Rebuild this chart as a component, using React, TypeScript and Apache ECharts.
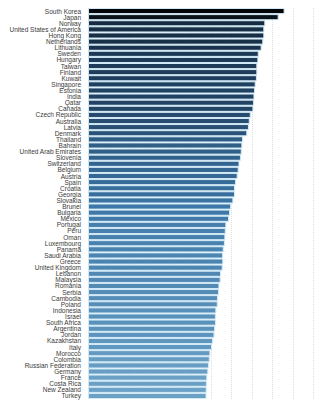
import React, { useEffect, useRef } from "react";
import * as echarts from "echarts";

const countries = [
  "South Korea", "Japan", "Norway", "United States of America", "Hong Kong", "Netherlands",
  "Lithuania", "Sweden", "Hungary", "Taiwan", "Finland", "Kuwait", "Singapore", "Estonia",
  "India", "Qatar", "Canada", "Czech Republic", "Australia", "Latvia", "Denmark", "Thailand",
  "Bahrain", "United Arab Emirates", "Slovenia", "Switzerland", "Belgium", "Austria", "Spain",
  "Croatia", "Georgia", "Slovakia", "Brunei", "Bulgaria", "Mexico", "Portugal", "Peru", "Oman",
  "Luxembourg", "Panama", "Saudi Arabia", "Greece", "United Kingdom", "Lebanon", "Malaysia",
  "Romania", "Serbia", "Cambodia", "Poland", "Indonesia", "Israel", "South Africa", "Argentina",
  "Jordan", "Kazakhstan", "Italy", "Morocco", "Colombia", "Russian Federation", "Germany",
  "France", "Costa Rica", "New Zealand", "Turkey",
];

const values = [
  95.9, 93.0, 86.5, 86.0, 86.0, 85.5,
  84.7, 83.3, 83.1, 82.6, 82.6, 82.4, 81.8, 81.5,
  81.2, 81.0, 80.7, 79.4, 78.9, 78.5, 77.7, 75.6,
  75.3, 75.0, 74.6, 73.9, 73.5, 73.0, 72.2,
  71.7, 71.7, 70.9, 69.8, 69.3, 68.8, 67.5, 67.2, 67.0,
  66.8, 66.2, 65.9, 66.0, 65.7, 64.9, 64.7,
  64.1, 63.9, 63.4, 63.3, 62.6, 62.4, 62.4, 62.0,
  61.7, 61.0, 60.5, 59.7, 59.4, 59.0, 58.7,
  58.2, 58.0, 57.9, 57.8,
];

const axisMin = 0;
const axisMax = 110;
const axisStep = 10;

export default function App() {
  const ref = useRef<HTMLDivElement>(null);
  useEffect(() => {
    if (!ref.current) return;
    const chart = echarts.init(ref.current, null, { renderer: "svg" });
    chart.setOption({
      animation: false,
      backgroundColor: "#ffffff",
      grid: {
        left: 88,
        right: 10.5,
        top: 8,
        bottom: 1,
        containLabel: false,
        outerBoundsMode: "none",
      },
      visualMap: {
        show: false,
        type: "continuous",
        dimension: 0,
        min: 57,
        max: 96,
        inRange: { color: ["#6fa4c8", "#3c76a6", "#1d3a58", "#020406"] },
      },
      xAxis: {
        type: "value",
        min: axisMin,
        max: axisMax,
        interval: axisStep,
        axisLabel: { show: false },
        axisLine: { show: false },
        axisTick: { show: false },
        splitLine: { show: true, lineStyle: { color: "#dcdcdc", type: "dotted", width: 1 } },
      },
      yAxis: {
        type: "category",
        data: countries,
        inverse: true,
        axisLine: { show: false },
        axisTick: { show: false },
        axisLabel: {
          margin: 7,
          fontFamily: "'Liberation Sans', Arial, sans-serif",
          fontSize: 6.5,
          lineHeight: 6,
          color: "#3a3a3a",
          interval: 0,
        },
      },
      series: [
        {
          type: "bar",
          data: values,
          barCategoryGap: 0,
          itemStyle: { borderColor: "#d2eaf6", borderWidth: 1 },
        },
      ],
    });
    return () => chart.dispose();
  }, []);
  return <div ref={ref} style={{ width: 324, height: 400, position: "absolute", left: 0, top: 0 }} />;
}
